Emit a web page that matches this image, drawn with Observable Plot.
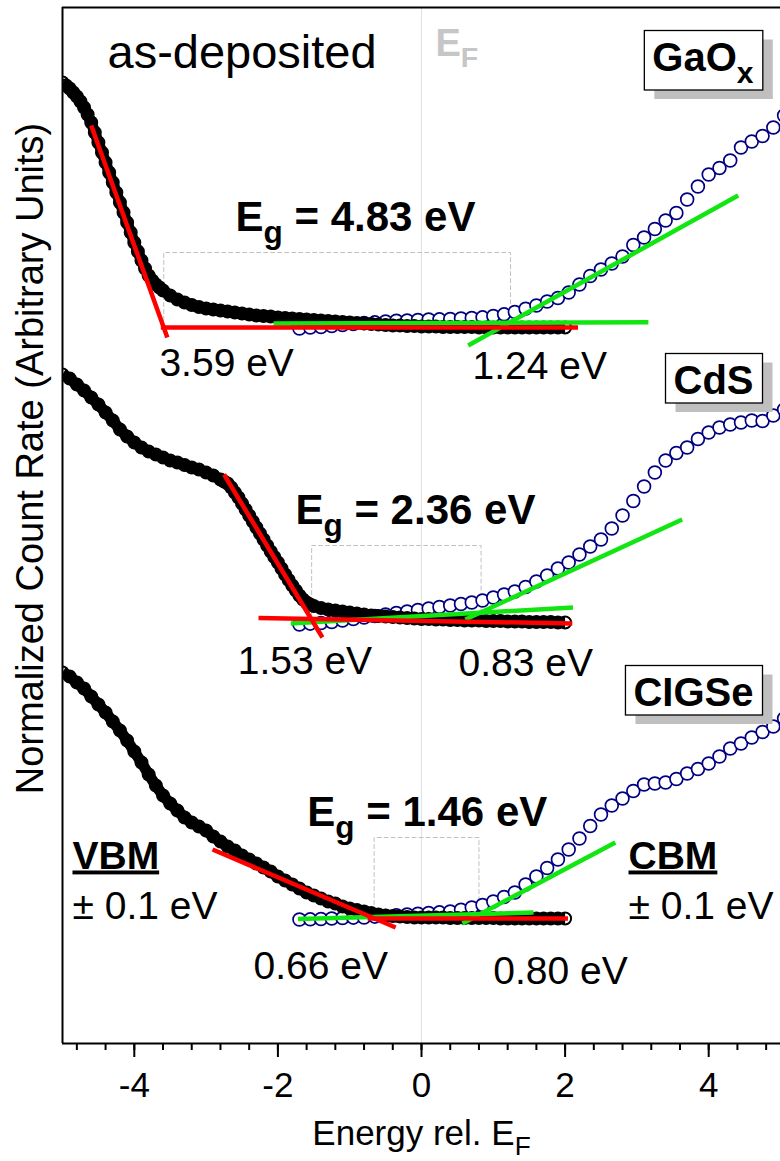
<!DOCTYPE html>
<html>
<head>
<meta charset="utf-8">
<script src="https://cdn.jsdelivr.net/npm/d3@7"></script>
<script src="https://cdn.jsdelivr.net/npm/@observablehq/plot@0.6"></script>
<style>
  html, body { margin: 0; padding: 0; background: #fff; }
  #chart { width: 780px; height: 1161px; }
</style>
</head>
<body>
<div id="chart"></div>
<script>
// Stacked UPS (valence band, black) and IPES (conduction band, navy) spectra
// of the as-deposited GaOx / CdS / CIGSe surfaces, with linear edge fits.

const samples = ["GaO_x", "CdS", "CIGSe"];
// vertical stacking offset of each spectrum (arbitrary units)
const offsets = [716, 421, 125];
// band edges relative to E_F (eV)
const vbm = [-3.59, -1.53, -0.66];
const cbm = [1.24, 0.83, 0.80];

// ---- valence band spectra (normalized count rate above background) ----
const vbEnergyGaOx = [
  -5.00, -4.95, -4.90, -4.85, -4.80, -4.75, -4.70, -4.65, -4.60, -4.55,
  -4.50, -4.45, -4.40, -4.35, -4.30, -4.25, -4.20, -4.15, -4.10, -4.05,
  -4.00, -3.95, -3.90, -3.85, -3.80, -3.75, -3.70, -3.65, -3.60,
  -3.5, -3.4, -3.3, -3.2, -3.1, -3.0, -2.9, -2.8, -2.7, -2.6,
  -2.5, -2.4, -2.3, -2.2, -2.1, -2.0, -1.9, -1.8, -1.7, -1.6,
  -1.5, -1.4, -1.3, -1.2, -1.1, -1.0, -0.9, -0.8, -0.7, -0.6,
  -0.5, -0.4, -0.3, -0.2, -0.1, 0.0, 0.1, 0.2, 0.3, 0.4,
  0.5, 0.6, 0.7, 0.8, 0.9, 1.0, 1.1, 1.2, 1.3, 1.4,
  1.5, 1.6, 1.7, 1.8, 1.9, 2.0
];
const vbCountsGaOx = [
  245, 242, 239, 235, 231, 226, 220, 213, 205, 195,
  185, 175, 165, 155, 145, 135, 125, 115, 105, 95,
  85, 76, 67, 59, 52, 47, 43, 40, 37,
  32, 28, 25, 22.5, 20.5, 19, 18, 17, 16, 15,
  14, 13, 12, 11.5, 11, 10, 9.5, 9, 8.5, 8,
  7.5, 7, 6.5, 6, 5.5, 5, 4.5, 4, 3.5, 3,
  2.5, 2, 2, 1.5, 1.5, 1, 1, 1, 0.5, 0.5,
  0.5, 0.5, 0.5, 0, 0, 0, 0, 0, 0, 0,
  0, 0, 0, 0, 0, 0
];

const vbEnergyCdS = [
  -5.0, -4.9, -4.8, -4.7, -4.6, -4.5, -4.4, -4.3, -4.2, -4.1,
  -4.0, -3.9, -3.8, -3.7, -3.6, -3.5, -3.4, -3.3, -3.2, -3.1,
  -3.0, -2.9, -2.8,
  -2.75, -2.70, -2.65, -2.60, -2.55, -2.50, -2.45, -2.40, -2.35, -2.30,
  -2.25, -2.20, -2.15, -2.10, -2.05, -2.00, -1.95, -1.90, -1.85, -1.80,
  -1.75, -1.70, -1.65, -1.60, -1.55,
  -1.5, -1.4, -1.3, -1.2, -1.1, -1.0, -0.9, -0.8, -0.7, -0.6,
  -0.5, -0.4, -0.3, -0.2, -0.1, 0.0, 0.1, 0.2, 0.3, 0.4,
  0.5, 0.6, 0.7, 0.8, 0.9, 1.0, 1.1, 1.2, 1.3, 1.4,
  1.5, 1.6, 1.7, 1.8, 1.9, 2.0
];
const vbCountsCdS = [
  248, 244, 238, 232, 225, 218, 210, 202, 193, 186,
  180, 175, 171, 168, 165, 162, 160, 157.5, 155, 153,
  150, 147, 143,
  141, 139, 135, 130, 125, 119, 113, 107, 101, 95,
  89, 83, 77, 71, 65.5, 60, 54, 48, 42.5, 37,
  32, 27, 23, 20, 18,
  16.5, 14.5, 13, 12, 11, 10, 9, 8, 7, 6.5,
  6, 5.5, 5, 4.5, 4, 3.5, 3.5, 3, 3, 2.5,
  2.5, 2, 2, 2, 1.5, 1.5, 1.5, 1, 1, 1,
  0.5, 0.5, 0.5, 0.5, 0, 0
];

const vbEnergyCIGSe = [
  -5.0, -4.9, -4.8, -4.7, -4.6, -4.5, -4.4, -4.3, -4.2, -4.1,
  -4.0, -3.9, -3.8, -3.7, -3.6, -3.5, -3.4, -3.3, -3.2, -3.1,
  -3.0, -2.9, -2.8, -2.7, -2.6, -2.5, -2.4, -2.3, -2.2, -2.1,
  -2.0, -1.9, -1.8, -1.7, -1.6, -1.5, -1.4, -1.3, -1.2, -1.1,
  -1.0, -0.9, -0.8, -0.7, -0.6, -0.5, -0.4, -0.3, -0.2, -0.1,
  0.0, 0.1, 0.2, 0.3, 0.4, 0.5, 0.6, 0.7, 0.8, 0.9,
  1.0, 1.1, 1.2, 1.3, 1.4, 1.5, 1.6, 1.7, 1.8, 1.9, 2.0
];
const vbCountsCIGSe = [
  246, 242, 236, 230, 222, 214, 206, 197, 188, 178,
  167, 156, 144, 133, 123, 115, 108, 101, 96, 92,
  88, 82, 77, 72, 68, 63, 59, 55, 51, 47,
  42, 38, 34, 30, 26, 23, 20, 17, 15, 12,
  10, 8.5, 7, 5.5, 4, 3, 2.5, 2, 1.5, 1,
  1, 1, 1, 1, 0.5, 0.5, 0.5, 0.5, 0.5, 0.5,
  0.5, 0, 0, 0, 0, 0, 0, 0, 0, 0, 0
];

// ---- conduction band spectra (common energy grid) ----
const cbEnergy = [
  -1.70, -1.55, -1.40, -1.25, -1.10, -0.95, -0.80, -0.65, -0.50, -0.35,
  -0.20, -0.05, 0.10, 0.25, 0.40, 0.55, 0.70, 0.85, 1.00, 1.15,
  1.30, 1.45, 1.60, 1.75, 1.90, 2.05, 2.20, 2.35, 2.50, 2.65,
  2.80, 2.95, 3.10, 3.25, 3.40, 3.55, 3.70, 3.85, 4.00, 4.15,
  4.30, 4.45, 4.60, 4.75, 4.90, 5.05
];
const cbCountsGaOx = [
  -1, 0, 0.5, 1.5, 2.5, 3.5, 4.5, 5.2, 6, 6.8,
  7, 7.5, 8, 8.2, 8.5, 9, 9.5, 10.2, 11.5, 13.2,
  15.5, 18.8, 22, 26, 29.5, 35, 43, 51.5, 58, 64,
  71, 82.5, 90, 98.5, 107, 114.5, 128, 141, 153, 159.5,
  167, 180, 186, 191.5, 200, 212
];
const cbCountsCdS = [
  -2, -1.2, -0.5, 0.5, 2, 3.5, 5, 6.5, 8, 9.5,
  11, 12.5, 14, 15.5, 17, 18.5, 20, 22, 25, 28,
  31, 35.5, 41, 47, 54, 60, 68, 76, 83, 94,
  107, 121.5, 136, 150, 162, 169.5, 175, 183.5, 190, 195,
  198, 200, 202, 201.5, 207, 213
];
const cbCountsCIGSe = [
  -1, -0.8, -0.5, 0, 0.5, 0.8, 1, 1.8, 2.5, 3.2,
  4, 4.8, 5.5, 6.2, 7, 8.8, 11, 13.5, 17, 21.5,
  26, 34, 42, 50.5, 59, 69, 80, 92.5, 104, 113,
  120, 127.5, 134, 135, 136, 139.5, 145, 149.5, 155, 162,
  170, 175, 181, 186.5, 192, 200
];

// ---- linear fits: [E start, E end] and [counts start, counts end] per sample ----
const vbEdgeE = [[-4.60, -3.54], [-2.75, -1.38], [-2.91, -0.36]];
const vbEdgeC = [[202, -10], [148, -15], [69, -9]];
const vbBaseE = [[-3.63, 2.18], [-2.27, 2.10], [-0.75, 2.04]];
const vbBaseC = [[0, 0], [4.5, -1], [0, 0]];
const cbEdgeE = [[0.65, 4.41], [0.61, 3.63], [0.57, 2.70]];
const cbEdgeC = [[-18, 132], [3, 103], [-5, 76]];
const cbBaseE = [[-2.06, 3.16], [-1.82, 2.11], [-1.72, 1.56]];
const cbBaseC = [[4, 5.3], [-1, 15], [-0.5, 6]];
// height of the dashed band-gap bracket above each baseline
const gapBracketTop = [75, 77, 81];

// axis ticks
const majorTicks = [-4, -2, 0, 2, 4];
const minorTicks = [-4.8, -4.4, -4.0, -3.6, -3.2, -2.8, -2.4, -2.0, -1.6, -1.2, -0.8, -0.4,
  0, 0.4, 0.8, 1.2, 1.6, 2.0, 2.4, 2.8, 3.2, 3.6, 4.0, 4.4, 4.8];

// annotation anchors (energy, count-rate units)
const gapLabelE = [-2.59, -1.755, -1.59];
const gapLabelY = [813, 520, 218];
const vbmLabelE = [-3.65, -2.56, -2.34];
const vbmLabelY = [668, 370, 65];
const cbmLabelE = [0.71, 0.515, 1.0];
const cbmLabelY = [665, 368, 60];
const sampleLabelE = 4.624;
const sampleLabelY = [973, 650, 338];

// ---- build tables ----
const spectrum = (energy, counts, i) =>
  energy.map((e, k) => ({sample: samples[i], energy: e, counts: offsets[i] + counts[k]}));

const vbRows = [
  ...spectrum(vbEnergyGaOx, vbCountsGaOx, 0),
  ...spectrum(vbEnergyCdS, vbCountsCdS, 1),
  ...spectrum(vbEnergyCIGSe, vbCountsCIGSe, 2)
];
const cbRows = [
  ...spectrum(cbEnergy, cbCountsGaOx, 0),
  ...spectrum(cbEnergy, cbCountsCdS, 1),
  ...spectrum(cbEnergy, cbCountsCIGSe, 2)
];

const segments = (E, C, kind) => E.flatMap((pair, i) =>
  pair.map((e, k) => ({key: samples[i] + kind, energy: e, counts: offsets[i] + C[i][k]})));

const redRows = [...segments(vbEdgeE, vbEdgeC, "edge"), ...segments(vbBaseE, vbBaseC, "base")];
const greenRows = [...segments(cbBaseE, cbBaseC, "base"), ...segments(cbEdgeE, cbEdgeC, "edge")];

const bracketRows = samples.flatMap((s, i) => [
  {sample: s, energy: vbm[i], counts: offsets[i]},
  {sample: s, energy: vbm[i], counts: offsets[i] + gapBracketTop[i]},
  {sample: s, energy: cbm[i], counts: offsets[i] + gapBracketTop[i]},
  {sample: s, energy: cbm[i], counts: offsets[i]}
]);

const gapLabels = samples.map((s, i) => ({e: gapLabelE[i], c: gapLabelY[i],
  t: `E_g = ${(cbm[i] - vbm[i]).toFixed(2)} eV`}));
const edgeLabels = samples.flatMap((s, i) => [
  {e: vbmLabelE[i], c: vbmLabelY[i], t: `${Math.abs(vbm[i]).toFixed(2)} eV`},
  {e: cbmLabelE[i], c: cbmLabelY[i], t: `${cbm[i].toFixed(2)} eV`}
]);
const sampleLabels = samples.map((s, i) => ({e: sampleLabelE, c: sampleLabelY[i], t: s}));

const font = "Liberation Sans, Arial, Helvetica, sans-serif";
const xy = {x: "energy", y: "counts"};

const chart = Plot.plot({
  width: 780,
  height: 1161,
  marginLeft: 62,
  marginRight: 0,
  marginTop: 7,
  marginBottom: 118,
  x: {domain: [-5, 5]},
  y: {domain: [0, 1036], axis: null},
  style: {fontFamily: font, background: "white", color: "black"},
  marks: [
    Plot.ruleX([0], {stroke: "#e3e3e3", strokeWidth: 1.2}),
    Plot.line(bracketRows, {...xy, z: "sample", stroke: "#c0c0c0", strokeWidth: 1,
      strokeDasharray: "4,3", strokeLinejoin: "miter"}),
    Plot.dot(cbRows, {...xy, r: 6.4, stroke: "#000080", strokeWidth: 1.7, fill: "white", clip: true}),
    Plot.line(vbRows, {...xy, z: "sample", stroke: "black", strokeWidth: 11,
      strokeLinecap: "butt", clip: true}),
    Plot.dot(vbRows, {...xy, r: 6, stroke: "black", strokeWidth: 2, fill: "none", clip: true}),
    Plot.line(greenRows, {...xy, z: "key", stroke: "#12e612", strokeWidth: 4.5, strokeLinecap: "butt"}),
    Plot.line(redRows, {...xy, z: "key", stroke: "#ff0000", strokeWidth: 4.5, strokeLinecap: "butt"}),

    // annotations
    Plot.text(["as-deposited"], {x: -4.373, y: 976, text: d => d, textAnchor: "start",
      lineAnchor: "bottom", fontSize: 47}),
    Plot.text(["E_F"], {x: 0.195, y: 988, text: d => d, textAnchor: "start",
      lineAnchor: "bottom", fontSize: 38, fontWeight: "bold", fill: "#c6c6c6"}),
    Plot.text(gapLabels, {x: "e", y: "c", text: "t", textAnchor: "start", lineAnchor: "bottom",
      fontSize: 42, fontWeight: "bold"}),
    Plot.text(edgeLabels, {x: "e", y: "c", text: "t", textAnchor: "start", lineAnchor: "bottom",
      fontSize: 39}),
    Plot.text(sampleLabels, {x: "e", y: "c", text: "t", textAnchor: "end", lineAnchor: "bottom",
      fontSize: 40, fontWeight: "bold"}),
    Plot.text(["VBM", "CBM"], {x: [-4.861, 2.883], y: [175, 175], text: d => d, textAnchor: "start",
      lineAnchor: "bottom", fontSize: 39, fontWeight: "bold"}),
    Plot.text(["± 0.1 eV", "± 0.1 eV"], {x: [-4.861, 2.883], y: [125, 125], text: d => d,
      textAnchor: "start", lineAnchor: "bottom", fontSize: 39}),

    // frame and axes
    Plot.ruleX([-5], {strokeWidth: 2}),
    Plot.ruleY([0], {strokeWidth: 2}),
    Plot.ruleY([1036], {strokeWidth: 2}),
    Plot.axisX(minorTicks, {tickSize: 7, strokeWidth: 2, tickFormat: () => "", label: null}),
    Plot.axisX(majorTicks, {tickSize: 14, tickPadding: 15, strokeWidth: 2, fontSize: 35,
      tickFormat: d => String(d), label: null}),
    Plot.text(["Energy rel. E_F"], {x: 0, frameAnchor: "bottom", dy: 101, text: d => d,
      lineAnchor: "bottom", textAnchor: "middle", fontSize: 35}),
    Plot.text(["Normalized Count Rate (Arbitrary Units)"], {x: -5, y: 585, dx: -20, rotate: -90,
      text: d => d, textAnchor: "middle", lineAnchor: "bottom", fontSize: 38})
  ]
});

document.getElementById("chart").appendChild(chart);

// Turn "_x" markup into lowered, smaller tspans.
const SVGNS = "http://www.w3.org/2000/svg";
chart.querySelectorAll("text").forEach(el => {
  const raw = el.textContent;
  if (!raw.includes("_")) return;
  const size = parseFloat(getComputedStyle(el).fontSize);
  const shift = size * 0.3;
  const parts = raw.split(/_(\w)/);
  while (el.firstChild) el.removeChild(el.firstChild);
  let lowered = false;
  parts.forEach((part, i) => {
    if (part === "") return;
    const span = document.createElementNS(SVGNS, "tspan");
    span.textContent = part;
    const isSub = i % 2 === 1;
    if (isSub) {
      span.setAttribute("font-size", size * 0.75);
      if (!lowered) { span.setAttribute("dy", shift); lowered = true; }
    } else if (lowered) {
      span.setAttribute("dy", -shift); lowered = false;
    }
    el.appendChild(span);
  });
});

// Underlined band-edge headings.
chart.querySelectorAll("text").forEach(el => {
  if (el.textContent === "VBM" || el.textContent === "CBM") {
    el.setAttribute("text-decoration", "underline");
  }
});

// Framed sample names with a drop shadow.
const framed = new Set(samples.map(s => s.replace("_", "")));
chart.querySelectorAll("text").forEach(el => {
  if (!framed.has(el.textContent)) return;
  const b = el.getBBox();
  const x = b.x - 8, y = b.y - 4, w = b.width + 17, h = b.height + 5.5;
  const parent = el.parentNode;
  const transform = el.getAttribute("transform");
  const make = (dx, dy, fill, stroke) => {
    const r = document.createElementNS(SVGNS, "rect");
    r.setAttribute("x", x + dx); r.setAttribute("y", y + dy);
    r.setAttribute("width", w); r.setAttribute("height", h);
    r.setAttribute("fill", fill);
    r.setAttribute("stroke", stroke);
    r.setAttribute("stroke-width", 1.3);
    if (transform) r.setAttribute("transform", transform);
    parent.insertBefore(r, el);
  };
  make(10, 9, "#bfbfbf", "none");
  make(0, 0, "white", "black");
});
</script>
</body>
</html>
